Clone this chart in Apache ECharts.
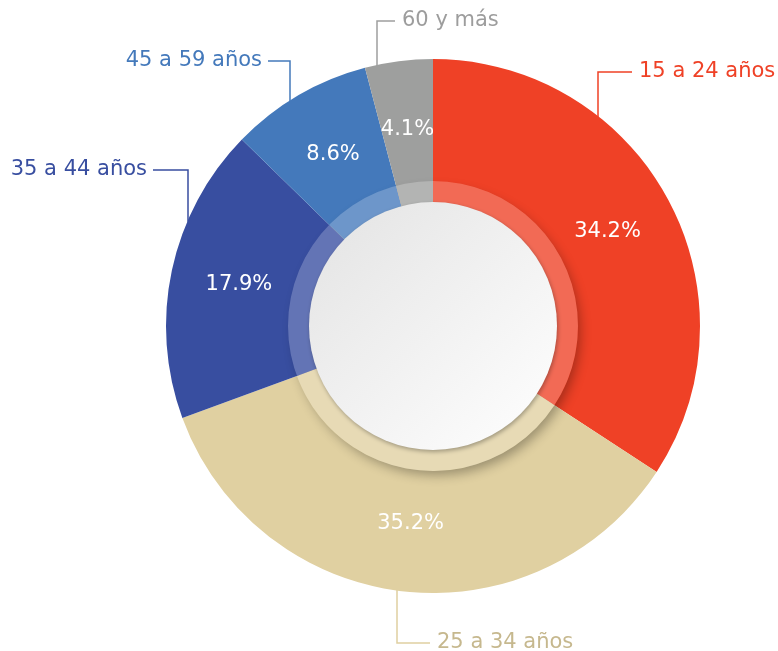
<!DOCTYPE html>
<html>
<head>
<meta charset="utf-8">
<script src="https://cdn.jsdelivr.net/npm/echarts@6/dist/echarts.min.js"></script>
<style>
  html, body { margin: 0; padding: 0; background: #fff; }
  #chart { width: 778px; height: 651px; }
</style>
</head>
<body>
<div id="chart"></div>
<script>
const categories = ['15 a 24 años', '25 a 34 años', '35 a 44 años', '45 a 59 años', '60 y más'];
const shares = [34.2, 35.2, 17.9, 8.6, 4.1];
const sliceColors = ['#ef4126', '#e0d0a1', '#384ea0', '#4479bb', '#9e9f9e'];
const labelColors = ['#ef4126', '#c6b88e', '#384ea0', '#4479bb', '#9d9d9d'];

// leader lines: x of the vertical stroke, y of the label row, length of the horizontal stroke
const leaders = [
  { x: 598, y: 72, len: 34, side: 'right' },
  { x: 397, y: 643, len: 33, side: 'right' },
  { x: 188, y: 170, len: 35, side: 'left' },
  { x: 290, y: 61, len: 22, side: 'left' },
  { x: 377, y: 21, len: 18, side: 'right' }
];

const CX = 433, CY = 326;
const R_IN = 124, R_OUT = 267, R_RING = 145;
const FONT = '"DejaVu Sans", sans-serif';

const chart = echarts.init(document.getElementById('chart'));

const slices = categories.map((name, i) => ({
  name: name,
  value: shares[i],
  itemStyle: { color: sliceColors[i] },
  label: { color: labelColors[i] },
  labelLine: { lineStyle: { color: sliceColors[i] } }
}));

const plain = {
  type: 'pie',
  center: [CX, CY],
  silent: true,
  label: { show: false },
  labelLine: { show: false },
  emphasis: { disabled: true }
};

chart.setOption({
  animation: false,
  series: [
    {
      type: 'pie',
      center: [CX, CY],
      radius: [R_IN, R_OUT],
      avoidLabelOverlap: false,
      silent: true,
      emphasis: { disabled: true },
      data: slices,
      label: {
        show: true,
        position: 'outside',
        formatter: '{b}',
        fontFamily: FONT,
        fontSize: 21
      },
      labelLine: { show: true, length: 20, length2: 20, smooth: false, lineStyle: { width: 1.5 } },
      labelLayout: function (params) {
        const l = leaders[params.dataIndex];
        const dx = l.x - CX;
        const dy = Math.sqrt(R_OUT * R_OUT - dx * dx);
        const edgeY = l.y < CY ? CY - dy + 2 : CY + dy - 2;
        const endX = l.side === 'right' ? l.x + l.len : l.x - l.len;
        return {
          x: l.side === 'right' ? endX + 7 : endX - 6,
          y: l.y,
          align: l.side === 'right' ? 'left' : 'right',
          verticalAlign: 'middle',
          labelLinePoints: [[l.x, edgeY], [l.x, l.y], [endX, l.y]]
        };
      }
    },
    // opaque disc that only casts the ring shadow
    Object.assign({}, plain, {
      radius: [0, R_RING - 2],
      data: [{ value: 1, itemStyle: { color: '#c9a98a', shadowColor: 'rgba(0,0,0,0.32)', shadowBlur: 12, shadowOffsetX: 4, shadowOffsetY: 6 } }]
    }),
    // slice colours again under the lighter ring
    Object.assign({}, plain, {
      radius: [R_IN - 4, R_RING],
      data: categories.map((name, i) => ({ name: name, value: shares[i], itemStyle: { color: sliceColors[i] } }))
    }),
    Object.assign({}, plain, {
      radius: [R_IN - 4, R_RING],
      data: [{ value: 1, itemStyle: { color: 'rgba(255,255,255,0.22)' } }]
    }),
    // centre disc
    Object.assign({}, plain, {
      radius: [0, R_IN],
      data: [{
        value: 1,
        itemStyle: {
          color: {
            type: 'linear', x: 0, y: 0, x2: 1, y2: 1,
            colorStops: [{ offset: 0, color: '#e3e3e3' }, { offset: 1, color: '#ffffff' }]
          },
          shadowColor: 'rgba(0,0,0,0.3)',
          shadowBlur: 4,
          shadowOffsetX: 1,
          shadowOffsetY: 2
        }
      }]
    }),
    // percentage labels
    {
      type: 'pie',
      center: [CX, CY],
      radius: [R_IN, R_OUT],
      silent: true,
      emphasis: { disabled: true },
      avoidLabelOverlap: false,
      data: categories.map((name, i) => ({ name: name, value: shares[i], itemStyle: { color: 'rgba(0,0,0,0)' } })),
      label: {
        show: true,
        position: 'inside',
        formatter: p => p.value.toFixed(1) + '%',
        color: '#ffffff',
        fontFamily: FONT,
        fontSize: 21
      },
      labelLine: { show: false }
    }
  ]
});
</script>
</body>
</html>
